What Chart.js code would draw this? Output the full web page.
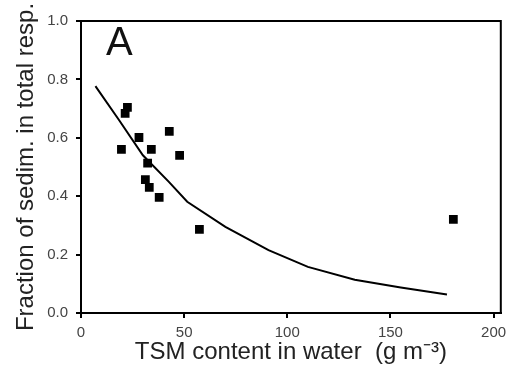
<!DOCTYPE html>
<html>
<head>
<meta charset="utf-8">
<script src="https://cdn.jsdelivr.net/npm/chart.js@4"></script>
<style>
  html, body { margin: 0; padding: 0; background: #fff; }
  #wrap { width: 507px; height: 367px; }
</style>
</head>
<body>
<div id="wrap"><canvas id="chart" width="507" height="367"></canvas></div>
<script>
// measured samples (TSM g m-3 vs fraction of sediment respiration)
const tsm = [19.6, 21.4, 22.5, 28.1, 34.1, 32.3, 31.2, 33.1, 37.9, 42.8, 47.8, 57.4, 180.5]
const fraction = [0.56, 0.684, 0.704, 0.601, 0.56, 0.513, 0.457, 0.43, 0.396, 0.622, 0.54, 0.286, 0.321]

// model curve
const curveX = [7, 18.5, 30, 42.6, 51.5, 70, 90.9, 110, 132.7, 155, 177.4]
const curveY = [0.777, 0.66, 0.54, 0.449, 0.381, 0.295, 0.215, 0.158, 0.114, 0.087, 0.063]

const xTicks = [0, 50, 100, 150, 200]

const font = "'Liberation Sans', Arial, sans-serif"

const frame = {
  id: 'frame',
  afterDraw(chart) {
    const { ctx, chartArea: a } = chart
    ctx.save()
    ctx.strokeStyle = '#000'
    ctx.lineWidth = 2
    ctx.strokeRect(a.left, a.top, a.right - a.left, a.bottom - a.top)
    ctx.fillStyle = '#111'
    ctx.font = '40px ' + font
    ctx.textBaseline = 'alphabetic'
    ctx.fillText('A', 106, 55)
    ctx.restore()
  }
}

new Chart(document.getElementById('chart').getContext('2d'), {
  type: 'scatter',
  data: {
    datasets: [{
      label: 'model',
      type: 'line',
      data: curveX.map((x, i) => ({ x, y: curveY[i] })),
      borderColor: '#000',
      borderWidth: 2,
      pointRadius: 0,
      tension: 0,
      fill: false
    }, {
      label: 'measured',
      data: tsm.map((x, i) => ({ x, y: fraction[i] })),
      pointStyle: 'rect',
      pointRadius: 6.2,
      backgroundColor: '#000',
      borderColor: '#000',
      borderWidth: 0
    }]
  },
  options: {
    responsive: false,
    animation: false,
    layout: { padding: { left: 0, right: 3, top: 21, bottom: 0 } },
    plugins: { legend: { display: false }, tooltip: { enabled: false } },
    scales: {
      x: {
        type: 'linear',
        min: 0,
        max: 203.5,
        afterBuildTicks: s => { s.ticks = xTicks.map(v => ({ value: v })) },
        afterFit: s => { s.height = 54; s.paddingLeft = 0; s.paddingRight = 0 },
        grid: { drawOnChartArea: false, tickLength: 5, color: '#000', lineWidth: 2 },
        border: { color: '#000', width: 2 },
        ticks: { color: '#444', font: { family: font, size: 15 }, padding: 6, maxRotation: 0 },
        title: {
          display: true,
          text: 'TSM content in water  (g m\u207B\u00B3)',
          color: '#222',
          font: { family: font, size: 24 },
          padding: { top: 0, bottom: 0 }
        }
      },
      y: {
        min: 0,
        max: 1,
        ticks: {
          stepSize: 0.2,
          color: '#444',
          font: { family: font, size: 15 },
          padding: 8,
          callback: v => v.toFixed(1)
        },
        afterFit: s => { s.width = 81; s.paddingTop = 0; s.paddingBottom = 0 },
        grid: { drawOnChartArea: false, tickLength: 5, color: '#000', lineWidth: 2 },
        border: { color: '#000', width: 2 },
        title: {
          display: true,
          text: 'Fraction of sedim. in total resp.',
          color: '#222',
          font: { family: font, size: 24 },
          padding: { top: 12, bottom: 0 }
        }
      }
    }
  },
  plugins: [frame]
})
</script>
</body>
</html>
